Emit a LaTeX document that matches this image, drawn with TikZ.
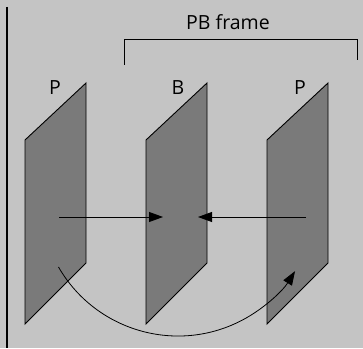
\documentclass[tikz,border=0pt]{standalone}
\usepackage{fontspec}
\setmainfont{Open Sans}
\usetikzlibrary{calc,arrows.meta}

\begin{document}
\begin{tikzpicture}[x=1pt,y=1pt,
    plane/.style={draw=black,line width=0.9pt,fill=black!52},
    lbl/.style={font=\fontsize{19.5}{22}\selectfont},
    tip/.style={-{Triangle[length=14pt,width=10pt]},line width=0.8pt}]
        % Фон і ліва межа
        \fill[black!23] (0,0) rectangle (363,348);
        \useasboundingbox (0,0) rectangle (363,348);
        \draw[line width=1.2pt] (7,341) -- (7,0);

        % Три площини P, B, P
        \foreach \x in {0,121,242}
            \draw[plane] (25+\x,208) -- (86+\x,265) -- (86+\x,85) -- (25+\x,24) -- cycle;

        % Підписи
        \node[lbl] (p1) at (55,260) {P};
        \node[lbl] (b) at (178,260) {B};
        \node[lbl] (p2) at (300,260) {P};
        \node[lbl] (frame) at (228,326) {PB frame};

        % Дужка над B і P
        \draw[line width=1pt] (124,283) -- (124,308) -- (357,308) -- (357,288);

        % Стрілки до B
        \coordinate (L) at (59,131);
        \coordinate (LB) at (163,131);
        \coordinate (R) at (306,131);
        \coordinate (RB) at (198,131);
        \draw[tip] (L) -- (LB);
        \draw[tip] (R) -- (RB);

        % Дуга від лівої P до правої P
        \coordinate (O) at (178,150);
        \coordinate (S) at ($(O)+(210:138)$);
        \draw[tip] (S) arc (210:328:138);
    \end{tikzpicture}
\end{document}
